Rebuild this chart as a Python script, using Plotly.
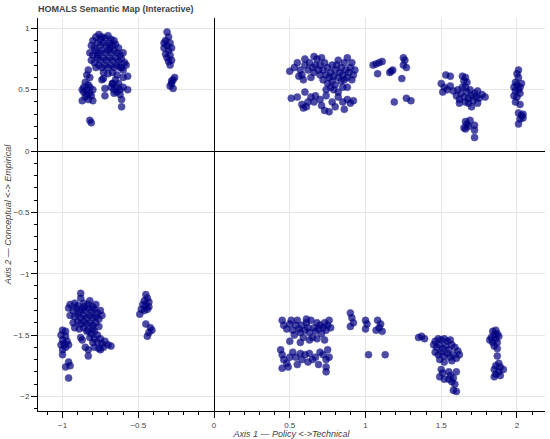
import plotly.graph_objects as go

# Cluster coordinates (Axis 1, Axis 2)
tl_main_x = [-0.80,-0.78,-0.76,-0.74,-0.72,-0.70,-0.68,-0.66,-0.81,-0.79,-0.77,-0.75,-0.73,-0.71,-0.69,-0.67,-0.65,-0.63,
             -0.82,-0.80,-0.78,-0.76,-0.74,-0.72,-0.70,-0.68,-0.66,-0.64,-0.62,-0.60,-0.81,-0.79,-0.77,-0.75,-0.73,-0.71,
             -0.69,-0.67,-0.65,-0.63,-0.61,-0.59,-0.78,-0.76,-0.74,-0.72,-0.70,-0.68,-0.66,-0.64,-0.62,-0.60,-0.58,-0.73,
             -0.70,-0.67,-0.64,-0.75,-0.69,-0.77,
             -0.83,-0.84,-0.82,-0.85,-0.83,-0.86,-0.84,-0.82,-0.86,-0.84,-0.82,-0.85,-0.83,-0.81,-0.87,-0.80,-0.87,-0.80,
             -0.82,-0.81,
             -0.74,-0.73,-0.67,-0.61,-0.57,-0.57,-0.72,-0.72,
             -0.68,-0.66,-0.64,-0.62,-0.66,-0.64,-0.62,-0.60,-0.67,-0.63,-0.61,-0.61,-0.65,-0.60]
tl_main_y = [0.90,0.93,0.95,0.93,0.92,0.94,0.91,0.90,0.86,0.84,0.88,0.86,0.88,0.86,0.88,0.86,0.87,0.84,
             0.80,0.78,0.82,0.80,0.82,0.80,0.82,0.80,0.82,0.80,0.78,0.80,0.74,0.72,0.76,0.74,0.76,0.74,
             0.76,0.74,0.76,0.73,0.75,0.72,0.68,0.70,0.68,0.70,0.68,0.70,0.68,0.70,0.68,0.66,0.70,0.64,
             0.63,0.64,0.62,0.91,0.84,0.78,
             0.66,0.62,0.60,0.56,0.54,0.52,0.50,0.52,0.48,0.46,0.47,0.44,0.42,0.45,0.50,0.50,0.41,0.41,
             0.25,0.23,
             0.58,0.59,0.55,0.68,0.61,0.50,0.51,0.45,
             0.52,0.50,0.52,0.50,0.47,0.48,0.46,0.52,0.55,0.55,0.42,0.36,0.58,0.60]

tl_side_x = [-0.31,-0.30,-0.32,-0.29,-0.31,-0.33,-0.30,-0.28,-0.32,-0.29,-0.31,-0.30,-0.28,-0.29,-0.33,
             -0.27,-0.26,-0.28,-0.29,-0.27,-0.28]
tl_side_y = [0.97,0.93,0.90,0.88,0.86,0.84,0.82,0.84,0.79,0.78,0.76,0.73,0.74,0.70,0.88,
             0.58,0.60,0.55,0.53,0.51,0.57]

tr_main_x = [0.50,0.53,0.55,0.57,0.58,0.60,0.60,0.62,0.63,0.64,0.65,0.66,0.67,0.68,0.69,0.70,0.70,0.72,0.72,0.73,
             0.74,0.75,0.75,0.76,0.77,0.77,0.78,0.78,0.79,0.80,0.80,0.81,0.82,0.82,0.83,0.84,0.84,0.85,0.86,0.86,
             0.87,0.88,0.88,0.89,0.90,0.91,0.92,0.93,0.85,0.79,0.82,0.56,0.59,0.66,0.71,0.74,0.88,0.91,
             0.51,0.55,0.58,0.59,0.61,0.62,0.64,0.66,0.67,0.70,0.71,0.73,0.74,0.78,0.80,0.82,0.85,0.88,0.90,0.92,
             0.86,0.76,0.60]
tr_main_y = [0.65,0.68,0.72,0.66,0.62,0.70,0.75,0.66,0.72,0.60,0.68,0.64,0.70,0.75,0.66,0.62,0.70,0.58,0.66,0.72,
             0.62,0.55,0.68,0.60,0.64,0.52,0.70,0.57,0.61,0.66,0.54,0.70,0.60,0.74,0.64,0.57,0.68,0.62,0.72,0.58,
             0.66,0.60,0.76,0.64,0.68,0.58,0.62,0.66,0.52,0.50,0.48,0.61,0.58,0.77,0.76,0.50,0.52,0.72,
             0.43,0.44,0.38,0.35,0.36,0.40,0.44,0.40,0.45,0.42,0.37,0.33,0.45,0.40,0.36,0.44,0.40,0.42,0.39,0.41,
             0.34,0.32,0.48]

tr_mid_x = [1.05,1.07,1.09,1.11,1.08,1.16,1.18,1.17,1.25,1.26,1.25,1.27,1.24,1.19,1.27,1.30]
tr_mid_y = [0.70,0.71,0.72,0.73,0.63,0.64,0.66,0.65,0.76,0.74,0.70,0.68,0.59,0.40,0.43,0.41]

tr_e_x = [1.53,1.56,1.64,1.66,1.65,1.67,1.50,1.52,1.54,1.51,1.56,1.58,1.60,1.61,1.62,1.63,1.64,1.65,1.66,1.67,
          1.68,1.69,1.70,1.71,1.72,1.73,1.74,1.75,1.77,1.79,1.62,1.68,1.74,1.66,1.70,
          1.66,1.67,1.68,1.66,1.69,1.72,1.72,1.72,1.65]
tr_e_y = [0.62,0.61,0.61,0.60,0.57,0.56,0.55,0.52,0.50,0.48,0.53,0.49,0.45,0.50,0.42,0.47,0.52,0.44,0.40,0.48,
          0.43,0.50,0.45,0.41,0.47,0.44,0.49,0.43,0.46,0.44,0.39,0.39,0.39,0.52,0.36,
          0.24,0.22,0.20,0.18,0.25,0.21,0.17,0.11,0.19]

tr_f_x = [2.01,2.00,2.01,1.99,2.00,2.02,1.98,2.01,1.99,2.02,1.98,2.00,1.99,2.02,2.03,2.01,2.03,2.04,2.02,2.01,2.04]
tr_f_y = [0.66,0.63,0.60,0.56,0.54,0.52,0.52,0.50,0.49,0.47,0.45,0.44,0.40,0.38,0.55,0.31,0.29,0.27,0.26,0.22,0.30]

bl_main_x = [-0.88,-0.88,-0.95,-0.92,-0.90,-0.86,-0.83,-0.80,-0.96,-0.93,-0.91,-0.89,-0.87,-0.85,-0.83,-0.81,-0.79,
             -0.77,-0.75,-0.95,-0.92,-0.90,-0.88,-0.86,-0.84,-0.82,-0.80,-0.78,-0.76,-0.74,-0.93,-0.90,-0.88,-0.86,
             -0.84,-0.82,-0.80,-0.78,-0.76,-0.89,-0.86,-0.83,-0.80,-0.92,-0.86,-0.82,-0.78,
             -1.00,-0.98,-1.01,-0.98,-1.00,-0.97,-0.99,-1.01,-0.98,-1.00,-0.96,-1.00,-0.96,-0.95,-0.98,-0.96,
             -0.84,-0.81,-0.79,-0.82,-0.79,-0.77,-0.75,-0.80,-0.77,-0.74,-0.72,-0.79,-0.76,-0.73,-0.70,-0.68,
             -0.83,-0.85,-0.83,-0.75,-0.87,-0.88]
bl_main_y = [-1.16,-1.20,-1.25,-1.24,-1.26,-1.24,-1.25,-1.27,-1.28,-1.30,-1.28,-1.31,-1.29,-1.30,-1.28,-1.31,-1.29,
             -1.32,-1.30,-1.34,-1.35,-1.33,-1.36,-1.34,-1.36,-1.34,-1.36,-1.35,-1.37,-1.34,-1.40,-1.39,-1.41,-1.39,
             -1.41,-1.40,-1.42,-1.40,-1.43,-1.45,-1.44,-1.46,-1.45,-1.44,-1.27,-1.22,-1.25,
             -1.46,-1.47,-1.50,-1.51,-1.54,-1.55,-1.57,-1.58,-1.60,-1.62,-1.58,-1.66,-1.72,-1.75,-1.76,-1.85,
             -1.47,-1.49,-1.47,-1.52,-1.53,-1.50,-1.53,-1.56,-1.56,-1.57,-1.55,-1.60,-1.61,-1.60,-1.58,-1.59,
             -1.62,-1.60,-1.67,-1.62,-1.54,-1.52]

bl_side_x = [-0.45,-0.44,-0.46,-0.43,-0.47,-0.45,-0.43,-0.48,-0.46,-0.44,-0.49,-0.45,-0.42,-0.41,-0.43,-0.44]
bl_side_y = [-1.17,-1.20,-1.22,-1.23,-1.25,-1.26,-1.27,-1.29,-1.30,-1.29,-1.33,-1.41,-1.44,-1.46,-1.48,-1.51]

br_main_x = [0.45,0.46,0.48,0.50,0.51,0.52,0.53,0.54,0.55,0.56,0.57,0.58,0.59,0.60,0.61,0.62,0.63,0.64,0.65,0.66,
             0.67,0.68,0.69,0.70,0.71,0.72,0.73,0.74,0.75,0.76,0.77,0.50,0.57,0.63,0.68,0.73,0.61,
             0.44,0.45,0.46,0.48,0.50,0.49,0.52,0.54,0.57,0.58,0.60,0.62,0.63,0.65,0.67,0.69,0.70,0.72,0.74,
             0.75,0.76,0.74,0.74,0.55,0.45]
br_main_y = [-1.38,-1.42,-1.45,-1.41,-1.38,-1.46,-1.50,-1.42,-1.38,-1.45,-1.48,-1.42,-1.52,-1.46,-1.40,-1.44,-1.48,
             -1.38,-1.52,-1.44,-1.47,-1.40,-1.45,-1.42,-1.49,-1.44,-1.40,-1.46,-1.42,-1.38,-1.44,-1.55,-1.56,-1.54,
             -1.53,-1.54,-1.37,
             -1.62,-1.66,-1.70,-1.73,-1.68,-1.76,-1.64,-1.68,-1.65,-1.70,-1.66,-1.72,-1.65,-1.70,-1.68,-1.74,-1.64,
             -1.66,-1.70,-1.62,-1.68,-1.80,-1.76,-1.74,-1.77]

br_mid_x = [0.90,0.91,0.92,0.90,1.00,1.01,1.00,1.08,1.10,1.09,1.11,1.07,1.02,1.13]
br_mid_y = [-1.32,-1.36,-1.40,-1.43,-1.38,-1.41,-1.45,-1.38,-1.41,-1.44,-1.47,-1.46,-1.66,-1.66]

br_k_x = [1.35,1.37,1.39,1.46,1.48,1.50,1.52,1.54,1.56,1.45,1.47,1.49,1.51,1.53,1.55,1.57,1.59,1.61,1.46,1.48,
          1.50,1.52,1.54,1.56,1.58,1.60,1.62,1.49,1.52,1.57,
          1.50,1.51,1.49,1.52,1.55,1.56,1.58,1.57,1.55,1.59,1.60,1.58,1.60]
br_k_y = [-1.52,-1.51,-1.53,-1.55,-1.53,-1.54,-1.53,-1.55,-1.54,-1.58,-1.60,-1.58,-1.61,-1.59,-1.62,-1.58,-1.60,
          -1.63,-1.64,-1.66,-1.64,-1.67,-1.65,-1.68,-1.66,-1.69,-1.66,-1.70,-1.72,-1.71,
          -1.78,-1.81,-1.84,-1.86,-1.80,-1.83,-1.85,-1.88,-1.86,-1.90,-1.80,-1.95,-1.96]

br_l_x = [1.84,1.86,1.85,1.87,1.83,1.86,1.88,1.84,1.87,1.85,1.87,1.82,1.87,1.88,1.86,1.89,1.85,1.88,1.86,1.89,
          1.91,1.85]
br_l_y = [-1.47,-1.46,-1.50,-1.49,-1.52,-1.53,-1.51,-1.56,-1.56,-1.59,-1.61,-1.54,-1.67,-1.73,-1.75,-1.76,-1.78,
          -1.80,-1.82,-1.83,-1.78,-1.84]

x_vals = (tl_main_x + tl_side_x + tr_main_x + tr_mid_x + tr_e_x + tr_f_x +
          bl_main_x + bl_side_x + br_main_x + br_mid_x + br_k_x + br_l_x)
y_vals = (tl_main_y + tl_side_y + tr_main_y + tr_mid_y + tr_e_y + tr_f_y +
          bl_main_y + bl_side_y + br_main_y + br_mid_y + br_k_y + br_l_y)

x_ticks = [-1, -0.5, 0, 0.5, 1, 1.5, 2]
y_ticks = [-2, -1.5, -1, -0.5, 0, 0.5, 1]

FONT = "Liberation Sans, Arial, sans-serif"

fig = go.Figure()
fig.add_trace(go.Scatter(
    x=x_vals, y=y_vals, mode="markers",
    marker=dict(size=7, color="#000080", opacity=0.7,
                line=dict(width=0.6, color="#000080")),
    hoverinfo="x+y", showlegend=False,
))

axis_common = dict(
    showgrid=True, gridcolor="#e6e6e6", gridwidth=1,
    zeroline=True, zerolinecolor="#000000", zerolinewidth=1,
    showline=True, linecolor="#000000", linewidth=1,
    ticks="outside", ticklen=6, tickcolor="#000000", tickwidth=1,
    minor=dict(ticks="outside", ticklen=3, dtick=0.1, tickcolor="#000000", showgrid=False),
    tickfont=dict(family=FONT, size=8, color="#444444"),
    automargin=False,
)

fig.update_layout(
    width=550, height=439,
    margin=dict(l=38, r=5, t=18, b=28),
    paper_bgcolor="white", plot_bgcolor="white",
    title=dict(text="<b>HOMALS Semantic Map (Interactive)</b>",
               x=38/550, xanchor="left", xref="container",
               y=1 - 8.5/439, yanchor="middle", yref="container",
               font=dict(family=FONT, size=9, color="#444444")),
    xaxis=dict(range=[-1.162, 2.185], tickvals=x_ticks,
               title=dict(text="<i>Axis 1 — Policy <->Technical</i>", standoff=0,
                          font=dict(family=FONT, size=9, color="#444444")),
               **axis_common),
    yaxis=dict(range=[-2.119, 1.084], tickvals=y_ticks,
               title=dict(text="<i>Axis 2 — Conceptual <-> Empirical</i>", standoff=0,
                          font=dict(family=FONT, size=9, color="#444444")),
               **axis_common),
)

fig.write_html("out.html", config={"displayModeBar": False},
               post_script="document.body.style.margin='0';document.body.style.overflow='hidden';")
